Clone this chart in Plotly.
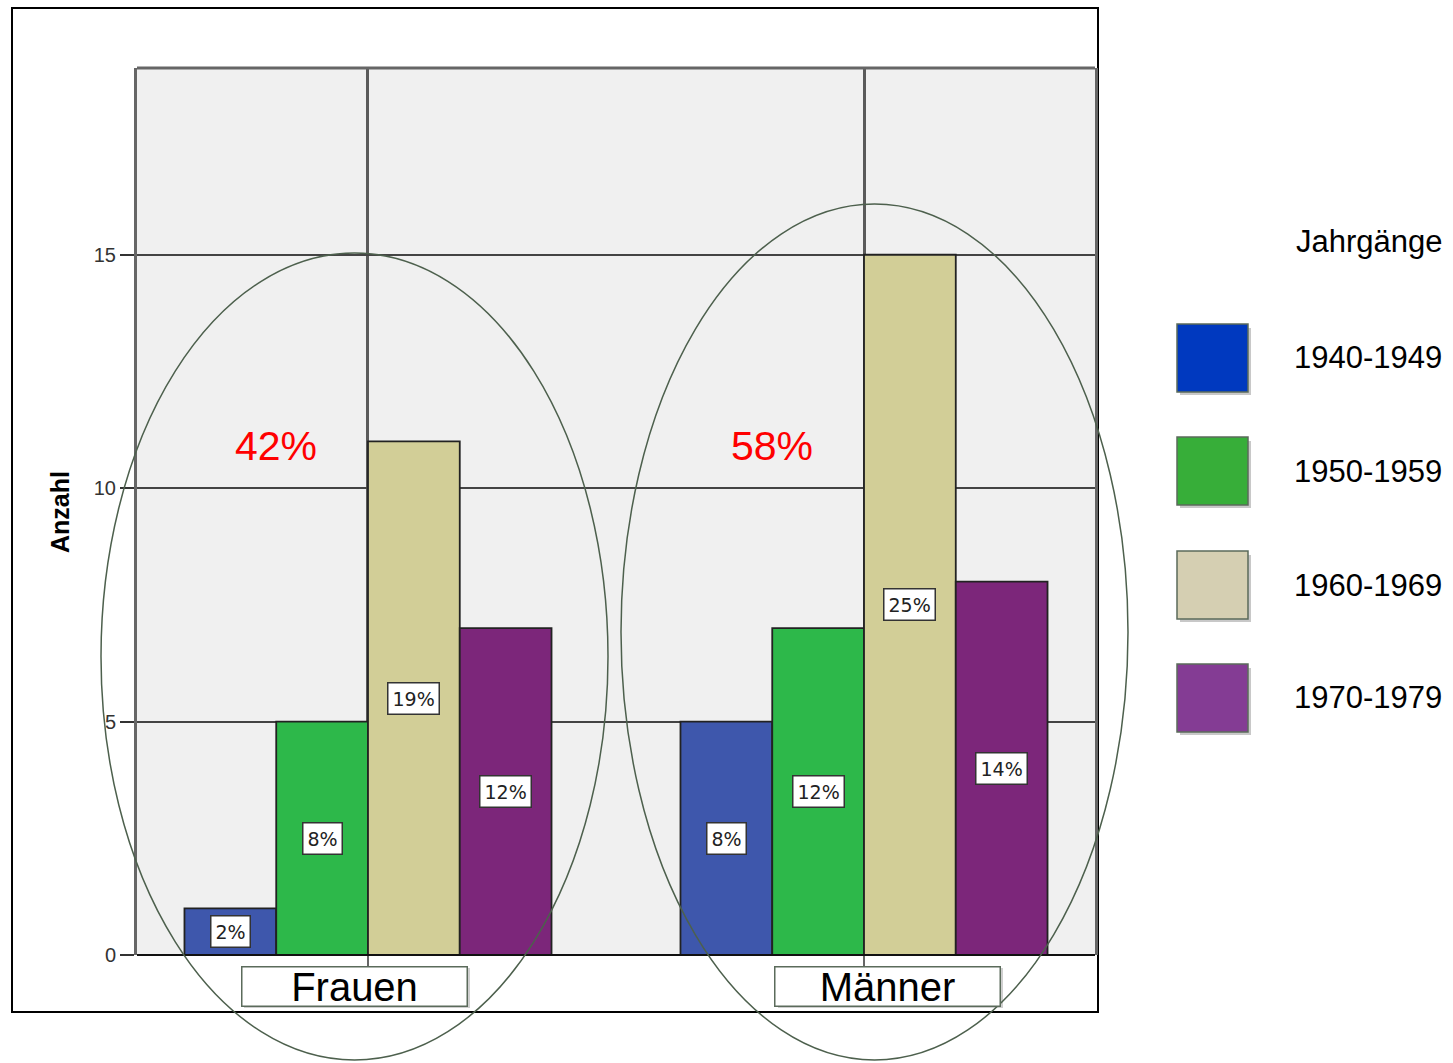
import plotly.graph_objects as go

# --- data ---
categories = ["Frauen", "Männer"]
cohorts = ["1940-1949", "1950-1959", "1960-1969", "1970-1979"]
counts = {
    "1940-1949": [1, 5],
    "1950-1959": [5, 7],
    "1960-1969": [11, 15],
    "1970-1979": [7, 8],
}
group_share_labels = ["42%", "58%"]
y_ticks = [0, 5, 10, 15]

bar_colors = ["#3E57AC", "#2DB84A", "#D2CE97", "#7C267A"]
legend_colors = ["#0039BF", "#37AE39", "#D5CFB2", "#843C94"]

# --- layout geometry (pixels) ---
W, H = 1453, 1063
PL, PR, PT, PB = 137, 1095, 68, 955  # plot area edges


def px(x):
    return (x - PL) / (PR - PL)


def py(y):
    return (PB - y) / (PB - PT)


total = sum(sum(v) for v in counts.values())
n = len(cohorts)
bargap = 0.26
bw = (1 - bargap) / n

fig = go.Figure()
for k, c in enumerate(cohorts):
    fig.add_trace(go.Bar(
        name=c, x=categories, y=counts[c],
        marker=dict(color=bar_colors[k], line=dict(color="#222222", width=1.8)),
        showlegend=False,
    ))

annotations = []
# percentage boxes at the middle of each bar
for k, c in enumerate(cohorts):
    off = (k - (n - 1) / 2) * bw
    for i, v in enumerate(counts[c]):
        annotations.append(dict(
            x=i + off, y=v / 2, xref="x", yref="y",
            xanchor="center", yanchor="middle",
            text=f"{round(v / total * 100)}%", showarrow=False,
            font=dict(family="DejaVu Sans", size=19, color="#222"),
            bgcolor="white", bordercolor="#333", borderwidth=1.5, borderpad=4,
        ))

# group shares in red
for i, s in enumerate(group_share_labels):
    annotations.append(dict(
        x=i - bw, y=10.9, xref="x", yref="y", text=s, showarrow=False,
        xanchor="center", yanchor="middle",
        font=dict(family="Arial, Liberation Sans", size=41, color="#FF0000"),
    ))

# category labels in framed boxes
for cx, lab in zip([354.5, 887.5], categories):
    annotations.append(dict(
        x=px(cx), y=py(986), xref="paper", yref="paper", text=lab, showarrow=False,
        xanchor="center", yanchor="middle",
        font=dict(family="Arial, Liberation Sans", size=40, color="black"),
        width=220, height=34, borderpad=2, bgcolor="white",
        bordercolor="#5B6B5B", borderwidth=1.5, valign="middle",
    ))

# y-axis title
annotations.append(dict(
    x=px(60), y=py(512), xref="paper", yref="paper", text="<b>Anzahl</b>",
    xanchor="center", yanchor="middle",
    textangle=-90, showarrow=False,
    font=dict(family="Arial, Liberation Sans", size=25, color="black"),
))

shapes = []
# outer frame
shapes.append(dict(type="rect", xref="paper", yref="paper",
                   x0=px(12), x1=px(1098), y0=py(1012), y1=py(8),
                   line=dict(color="black", width=2), layer="below"))
# top border of plot area
shapes.append(dict(type="line", xref="paper", yref="paper",
                   x0=0, x1=1, y0=1, y1=1, line=dict(color="#666", width=3)))
# baseline
shapes.append(dict(type="line", xref="paper", yref="paper",
                   x0=0, x1=1, y0=0, y1=0, line=dict(color="#111", width=2)))
# shadows of the category label boxes
for x0, x1 in [(241, 467), (775, 1000)]:
    shapes.append(dict(type="rect", xref="paper", yref="paper",
                       x0=px(x0 + 3), x1=px(x1 + 3), y0=py(1008), y1=py(968),
                       line=dict(width=0), fillcolor="#cfcfcf", layer="below"))

# ellipses around each group
for (x0, x1, y0, y1) in [(101, 608, 253, 1060), (621, 1128, 204, 1060)]:
    shapes.append(dict(type="circle", xref="paper", yref="paper",
                       x0=px(x0), x1=px(x1), y0=py(y1), y1=py(y0),
                       line=dict(color="#4D604D", width=1.5)))

# legend: title, swatches and labels
annotations.append(dict(
    x=px(1369), y=py(242), xref="paper", yref="paper", text="Jahrgänge",
    xanchor="center", yanchor="middle",
    showarrow=False, font=dict(family="Arial, Liberation Sans", size=31, color="black"),
))
sw_tops = [324, 437, 551, 664]
for k, c in enumerate(cohorts):
    t = sw_tops[k]
    shapes.append(dict(type="rect", xref="paper", yref="paper",
                       x0=px(1180), x1=px(1251), y0=py(t + 71), y1=py(t + 4),
                       line=dict(width=0), fillcolor="#c8c8c8"))
    shapes.append(dict(type="rect", xref="paper", yref="paper",
                       x0=px(1177), x1=px(1248), y0=py(t + 68), y1=py(t),
                       line=dict(color="#5B6B5B", width=1.5), fillcolor=legend_colors[k]))
    annotations.append(dict(
        x=px(1292), y=py(t + 34), xref="paper", yref="paper", text=c,
        xanchor="left", yanchor="middle", showarrow=False,
        font=dict(family="Arial, Liberation Sans", size=31, color="black"),
    ))

fig.update_layout(
    width=W, height=H,
    margin=dict(l=PL, r=W - PR, t=PT, b=H - PB, pad=0),
    paper_bgcolor="white", plot_bgcolor="#F0F0F0",
    barmode="group", bargap=bargap, bargroupgap=0,
    showlegend=False,
    annotations=annotations, shapes=shapes,
)
fig.update_xaxes(
    range=[-0.4657, 1.4657], showticklabels=False,
    showgrid=True, gridcolor="#5a5a5a", gridwidth=2.5,
    ticks="outside", ticklen=10, tickcolor="#666", tickwidth=2,
    showline=False, zeroline=False,
)
fig.update_yaxes(
    range=[0, 19], tickvals=y_ticks, ticktext=[str(t) for t in y_ticks],
    showgrid=True, gridcolor="#444", gridwidth=1.8,
    ticks="outside", ticklen=14, tickcolor="#333", tickwidth=1.5,
    tickfont=dict(family="Arial, Liberation Sans", size=20, color="#333"),
    showline=True, linecolor="#666", linewidth=3, mirror=True, zeroline=False,
)

fig.write_html("out.html")
